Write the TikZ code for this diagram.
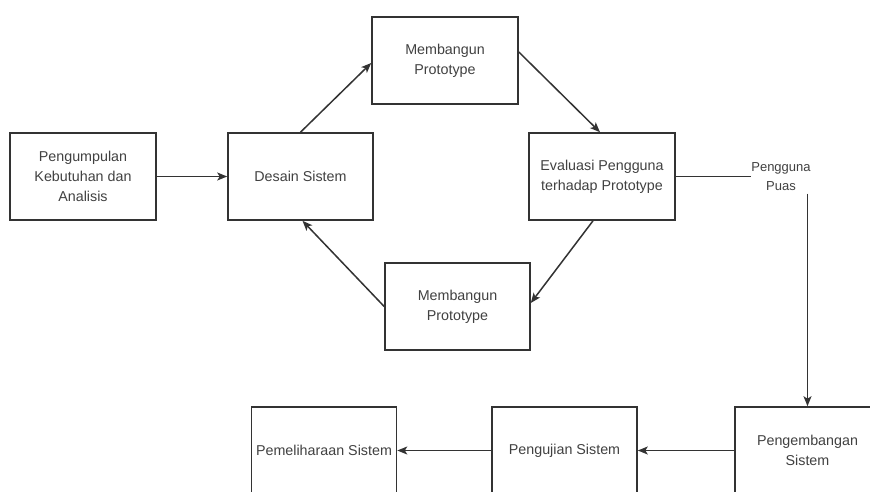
\documentclass[tikz,border=0pt]{standalone}
\usepackage{fontspec}
\setmainfont{Liberation Sans}
\usetikzlibrary{arrows.meta}
\definecolor{edge}{HTML}{333333}
\definecolor{ink}{HTML}{414141}
\begin{document}
\begin{tikzpicture}[x=1pt,y=-1pt,
  stepbox/.style={draw=edge, line width=1.6pt, fill=white, text=ink,
    minimum width=145pt, minimum height=87pt, inner sep=0pt, align=center,
    font=\fontsize{14.3}{20}\selectfont},
  note/.style={text=ink, inner sep=0pt, align=center,
    font=\fontsize{13}{19}\selectfont},
  link/.style={draw=edge, line width=1.5pt},
  flow/.style={link, -{Stealth[length=10pt,width=8pt,inset=2.5pt]}}]
\clip (0,0) rectangle (870,491);
\fill[white] (0,0) rectangle (870,491);

% prototyping cycle
\node[stepbox, minimum width=146pt] (kebutuhan) at (83,176.5) {Pengumpulan\\Kebutuhan dan\\Analisis};
\node[stepbox] (desain) at (300.5,176.5) {Desain Sistem};
\node[stepbox, minimum width=146pt] (proto1) at (445,60.5) {Membangun\\Prototype};
\node[stepbox, minimum width=146pt] (evaluasi) at (602,176.5) {Evaluasi Pengguna\\terhadap Prototype};
\node[stepbox] (proto2) at (457.5,306.5) {Membangun\\Prototype};
\node[note] (puas) at (781,176.5) {Pengguna\\Puas};

% final stages
\node[stepbox] (pengembangan) at (807.5,450.5) {Pengembangan\\Sistem};
\node[stepbox] (pengujian) at (564.5,450.5) {Pengujian Sistem};
\node[stepbox] (pemeliharaan) at (324,450.5) {Pemeliharaan Sistem};

\draw[flow] (kebutuhan.east) -- (desain.west);
\draw[flow] (desain.north) -- ([yshift=-2.5pt]proto1.west);
\draw[flow] ([yshift=8.5pt]proto1.east) -- ([xshift=-2pt]evaluasi.north);
\draw[flow] ([xshift=-9pt]evaluasi.south) -- ([yshift=3.5pt]proto2.east);
\draw[flow] (proto2.west) -- ([xshift=2pt]desain.south);

\draw[link] (evaluasi.east) -- (puas.west);
\coordinate (drop) at ([yshift=-3pt]puas.south);
\draw[flow] (drop -| pengembangan.north) -- (pengembangan.north);

\draw[flow] (pengembangan.west) -- (pengujian.east);
\draw[flow] (pengujian.west) -- (pemeliharaan.east);
\end{tikzpicture}
\end{document}
